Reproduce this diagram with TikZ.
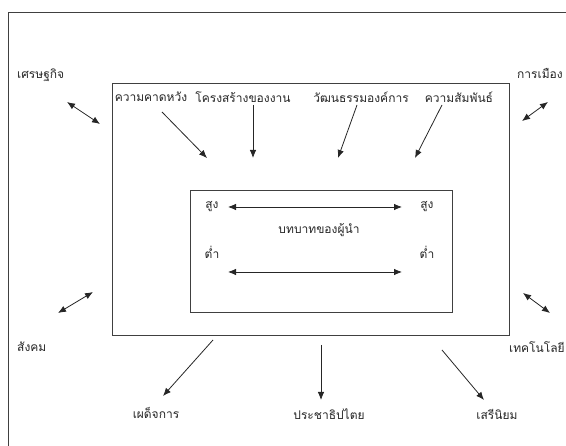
\documentclass[tikz,border=0pt]{standalone}
\usepackage{fontspec}
\newfontfamily\thaifont[Script=Thai]{Loma}
\usetikzlibrary{arrows.meta}
\begin{document}
\begin{tikzpicture}[x=1pt,y=-1pt,
  lbl/.style={inner sep=0pt,font=\thaifont\fontsize{12}{14}\selectfont,text=black!85},
  frame/.style={draw=black!75,line width=0.9pt},
  arr/.style={draw=black!85,line width=0.8pt,-{Latex[length=8pt,width=6.5pt]}},
  darr/.style={draw=black!85,line width=0.8pt,{Latex[length=8pt,width=6.5pt]}-{Latex[length=8pt,width=6.5pt]}}]
\useasboundingbox (0,0) rectangle (566,446);
\clip (0,0) rectangle (566,446);
% outer page frame
\draw[frame] (580,12) -- (8,12) -- (8,460);
% boxes
\draw[frame] (112,83) rectangle (509,335);
\draw[frame] (190,190) rectangle (452,312);
% outside labels
\node[lbl,anchor=west] (econ) at (17,75) {เศรษฐกิจ};
\node[lbl,anchor=west] (pol) at (517,73) {การเมือง};
\node[lbl,anchor=west] (soc) at (17,347) {สังคม};
\node[lbl,anchor=west] (tech) at (509,347) {เทคโนโลยี};
\node[lbl] (dict) at (156,413) {เผด็จการ};
\node[lbl] (demo) at (329,414) {ประชาธิปไตย};
\node[lbl] (lib) at (497,414) {เสรีนิยม};
% top labels
\node[lbl] (expc) at (151,97) {ความคาดหวัง};
\node[lbl] (struc) at (243,97) {โครงสร้างของงาน};
\node[lbl] (cult) at (361,97) {วัฒนธรรมองค์การ};
\node[lbl] (rel) at (459,97) {ความสัมพันธ์};
% inner labels
\node[lbl] (hl) at (212,207) {สูง};
\node[lbl] (hr) at (427,207) {สูง};
\node[lbl] (role) at (319,230) {บทบาทของผู้นำ};
\node[lbl] (ll) at (212,252) {ต่ำ};
\node[lbl] (lr) at (427,252) {ต่ำ};
% coordinates for arrow ends
\coordinate (e1) at (67,102); \coordinate (e2) at (100,124);
\coordinate (p1) at (548,102); \coordinate (p2) at (522,121);
\coordinate (s1) at (93,292); \coordinate (s2) at (58,313);
\coordinate (t1) at (523,293); \coordinate (t2) at (550,313);
\coordinate (a1) at (162,112); \coordinate (a2) at (207,158);
\coordinate (b1) at (253,105); \coordinate (b2) at (253,158);
\coordinate (c1) at (357,105); \coordinate (c2) at (338,158);
\coordinate (d1) at (442,105); \coordinate (d2) at (415,158);
\coordinate (h1) at (228,207); \coordinate (h2) at (402,207);
\coordinate (l1) at (228,272); \coordinate (l2) at (402,272);
\coordinate (f1) at (213,340); \coordinate (f2) at (163,396);
\coordinate (g1) at (321,345); \coordinate (g2) at (321,400);
\coordinate (k1) at (442,350); \coordinate (k2) at (484,400);
% connectors
\draw[darr] (e1) -- (e2);
\draw[darr] (p1) -- (p2);
\draw[darr] (s1) -- (s2);
\draw[darr] (t1) -- (t2);
\draw[arr] (a1) -- (a2);
\draw[arr] (b1) -- (b2);
\draw[arr] (c1) -- (c2);
\draw[arr] (d1) -- (d2);
\draw[darr] (h1) -- (h2);
\draw[darr] (l1) -- (l2);
\draw[arr] (f1) -- (f2);
\draw[arr] (g1) -- (g2);
\draw[arr] (k1) -- (k2);
\end{tikzpicture}
\end{document}
